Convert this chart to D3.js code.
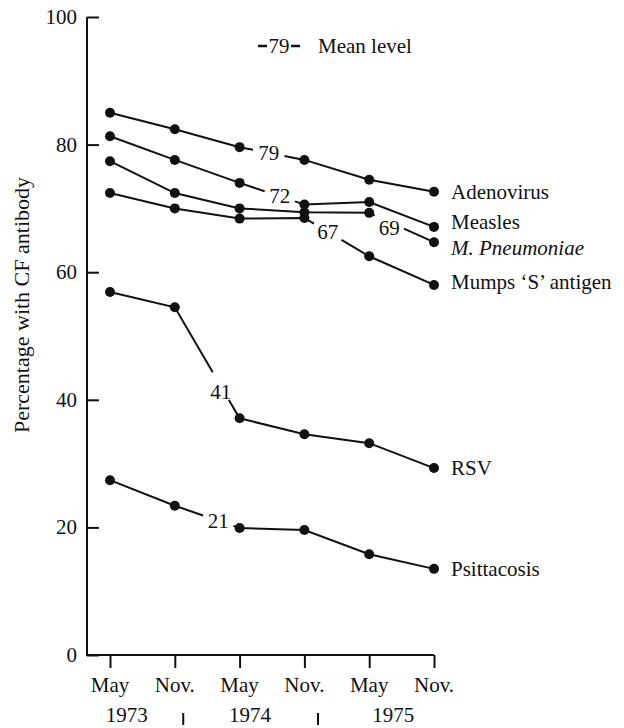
<!DOCTYPE html>
<html>
<head>
<meta charset="utf-8">
<script src="https://cdn.jsdelivr.net/npm/d3@7"></script>
<style>
body { margin: 0; background: #fff; }
text { font-family: "Liberation Serif", "DejaVu Serif", serif; fill: #111; }
</style>
</head>
<body>
<div id="chart"></div>
<script>
// Values (percentage with CF antibody).
var periods = ["May", "Nov.", "May", "Nov.", "May", "Nov."];
var years = ["1973", "1974", "1975"];
var seriesNames = ["Adenovirus", "Measles", "M. Pneumoniae", "Mumps \u2018S\u2019 antigen", "RSV", "Psittacosis"];
var adenovirus = [85.0, 82.4, 79.6, 77.6, 74.5, 72.6];
var measles = [81.3, 77.6, 74.0, 70.6, 71.0, 67.1];
var mPneumoniae = [77.4, 72.4, 70.0, 69.4, 69.3, 64.7];
var mumps = [72.4, 70.0, 68.4, 68.5, 62.5, 58.0];
var rsv = [56.9, 54.5, 37.1, 34.6, 33.2, 29.3];
var psittacosis = [27.4, 23.4, 19.9, 19.6, 15.8, 13.5];
var meanLevels = [79, 72, 69, 67, 41, 21];
var yTicks = [0, 20, 40, 60, 80, 100];

// where each mean label sits: segment index, fraction along it, small y nudge
var meanAt = [[2, 0.45, 0], [2, 0.62, 0], [4, 0.31, 6], [3, 0.36, 0], [1, 0.71, 6], [1, 0.67, 0]];
// nudges for the end labels so they don't collide
var endNudge = [0, -5, 6, -3, 0, 0];
var yearAt = [0.26, 2.16, 4.37];
var sepAt = [1.13, 3.21];

var width = 624;
var height = 728;
var fontSize = 21;

var allSeries = [adenovirus, measles, mPneumoniae, mumps, rsv, psittacosis];

var x = d3.scaleLinear().domain([0, periods.length - 1]).range([110, 434]);
var y = d3.scaleLinear().domain([0, 100]).range([655, 17]);

var svg = d3.select("#chart").append("svg")
		.attr("width", width)
		.attr("height", height)
		.style("background", "#fff");

// y axis, ticks pointing inward
var yAxis = d3.axisRight(y).tickValues(yTicks).tickSize(12).tickFormat("");
svg.append("g")
		.attr("transform", "translate(87,0)")
		.call(yAxis)
		.call(function(g) {
			g.select(".domain").attr("stroke", "#111").attr("stroke-width", 2).attr("d", "M0," + y(100) + "V" + y(0));
			g.selectAll(".tick line").attr("stroke", "#111").attr("stroke-width", 2);
		});

svg.append("g").selectAll("text")
		.data(yTicks)
		.enter().append("text")
		.attr("x", 77)
		.attr("y", function(d) { return y(d) + 7; })
		.attr("text-anchor", "end")
		.style("font-size", fontSize + "px")
		.text(function(d) { return d; });

// x axis, ticks pointing down
var xAxis = d3.axisBottom(x).tickValues(d3.range(periods.length)).tickSize(13).tickFormat("");
svg.append("g")
		.attr("transform", "translate(0," + y(0) + ")")
		.call(xAxis)
		.call(function(g) {
			g.select(".domain").attr("stroke", "#111").attr("stroke-width", 2).attr("d", "M86,0H" + x(periods.length - 1));
			g.selectAll(".tick line").attr("stroke", "#111").attr("stroke-width", 2);
		});

svg.append("g").selectAll("text")
		.data(periods)
		.enter().append("text")
		.attr("x", function(d, i) { return x(i); })
		.attr("y", 692)
		.attr("text-anchor", "middle")
		.style("font-size", fontSize + "px")
		.text(function(d) { return d; });

svg.append("g").selectAll("text")
		.data(years)
		.enter().append("text")
		.attr("x", function(d, i) { return x(yearAt[i]); })
		.attr("y", 722)
		.attr("text-anchor", "middle")
		.style("font-size", fontSize + "px")
		.text(function(d) { return d; });

// small bars between the years
svg.append("g").selectAll("line")
		.data(sepAt)
		.enter().append("line")
		.attr("x1", function(d) { return x(d); })
		.attr("x2", function(d) { return x(d); })
		.attr("y1", 713)
		.attr("y2", 725)
		.attr("stroke", "#111")
		.attr("stroke-width", 2);

// y axis title
svg.append("text")
		.attr("transform", "translate(29,305) rotate(-90)")
		.attr("text-anchor", "middle")
		.style("font-size", "22px")
		.text("Percentage with CF antibody");

var line = d3.line()
		.defined(function(d) { return d !== null; })
		.x(function(d) { return d[0]; })
		.y(function(d) { return d[1]; });

// build the pixel points for one series, broken where the mean label sits
function brokenPoints(values, at, gap) {
	var pts = values.map(function(v, i) { return [x(i), y(v)]; });
	var a = pts[at[0]], b = pts[at[0] + 1];
	var dx = b[0] - a[0], dy = b[1] - a[1];
	var len = Math.sqrt(dx * dx + dy * dy);
	var t0 = Math.max(0, at[1] - gap / len), t1 = Math.min(1, at[1] + gap / len);
	var out = pts.slice(0, at[0] + 1);
	if (t0 > 0) out.push([a[0] + dx * t0, a[1] + dy * t0]);
	out.push(null);
	if (t1 < 1) out.push([a[0] + dx * t1, a[1] + dy * t1]);
	return out.concat(pts.slice(at[0] + 1));
}

var series = svg.append("g").selectAll("g")
		.data(allSeries)
		.enter().append("g");

series.append("path")
		.attr("d", function(d, i) { return line(brokenPoints(d, meanAt[i], 16)); })
		.attr("fill", "none")
		.attr("stroke", "#111")
		.attr("stroke-width", 2);

series.selectAll("circle")
		.data(function(d) { return d; })
		.enter().append("circle")
		.attr("cx", function(d, i) { return x(i); })
		.attr("cy", function(d) { return y(d); })
		.attr("r", 5)
		.attr("fill", "#111");

// mean level labels on the lines
series.append("text")
		.attr("x", function(d, i) {
			var s = meanAt[i][0];
			return x(s + meanAt[i][1]);
		})
		.attr("y", function(d, i) {
			var s = meanAt[i][0], t = meanAt[i][1];
			return y(d[s]) + (y(d[s + 1]) - y(d[s])) * t + meanAt[i][2] + 7;
		})
		.attr("text-anchor", "middle")
		.style("font-size", fontSize + "px")
		.text(function(d, i) { return meanLevels[i]; });

// series names at the right end
series.append("text")
		.attr("x", x(periods.length - 1) + 17)
		.attr("y", function(d, i) { return y(d[d.length - 1]) + endNudge[i] + 7; })
		.style("font-size", fontSize + "px")
		.style("font-style", function(d, i) { return i === 2 ? "italic" : null; })
		.text(function(d, i) { return seriesNames[i]; });

// key: -79- Mean level
var key = svg.append("g");
key.append("line").attr("x1", 258).attr("x2", 267).attr("y1", 46).attr("y2", 46)
		.attr("stroke", "#111").attr("stroke-width", 2.5);
key.append("line").attr("x1", 291).attr("x2", 300).attr("y1", 46).attr("y2", 46)
		.attr("stroke", "#111").attr("stroke-width", 2.5);
key.append("text").attr("x", 279).attr("y", 53).attr("text-anchor", "middle")
		.style("font-size", fontSize + "px").text(meanLevels[0]);
key.append("text").attr("x", 318).attr("y", 53)
		.style("font-size", fontSize + "px").text("Mean level");
</script>
</body>
</html>
